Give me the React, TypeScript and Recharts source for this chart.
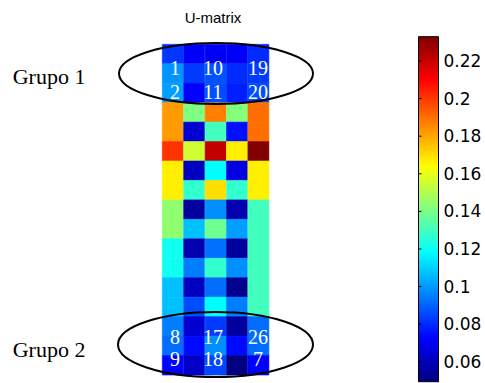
import { Bar, BarChart, Cell, XAxis, YAxis } from 'recharts';

// U-matrix cell values, top row first, 5 columns each
const columns = ['c1', 'c2', 'c3', 'c4', 'c5'];
const uMatrix: number[][] = [
  [0.082, 0.071, 0.07, 0.071, 0.08],
  [0.099, 0.083, 0.087, 0.08, 0.083],
  [0.101, 0.072, 0.086, 0.078, 0.086],
  [0.182, 0.141, 0.187, 0.142, 0.19],
  [0.182, 0.064, 0.13, 0.075, 0.19],
  [0.201, 0.1555, 0.221, 0.167, 0.233],
  [0.167, 0.061, 0.118, 0.067, 0.167],
  [0.167, 0.127, 0.17, 0.127, 0.167],
  [0.144, 0.055, 0.098, 0.058, 0.13],
  [0.144, 0.107, 0.138, 0.101, 0.13],
  [0.121, 0.058, 0.0925, 0.055, 0.13],
  [0.121, 0.095, 0.127, 0.098, 0.13],
  [0.107, 0.061, 0.092, 0.052, 0.13],
  [0.107, 0.086, 0.118, 0.095, 0.13],
  [0.095, 0.064, 0.083, 0.055, 0.092],
  [0.092, 0.074, 0.098, 0.074, 0.092],
  [0.073, 0.062, 0.085, 0.049, 0.072],
];

const colorRange: [number, number] = [0.0494, 0.2329];
const colorTicks = [0.06, 0.08, 0.1, 0.12, 0.14, 0.16, 0.18, 0.2, 0.22];

const groupNames = ['Grupo 1', 'Grupo 2'];
const group1Labels = [
  ['1', '10', '19'],
  ['2', '11', '20'],
];
const group2Labels = [
  ['8', '17', '26'],
  ['9', '18', '7'],
];

const clamp = (v: number) => Math.max(0, Math.min(1, v));

// matlab jet colormap
function jet(v: number) {
  const t = clamp((v - colorRange[0]) / (colorRange[1] - colorRange[0]));
  const r = clamp(Math.min(4 * t - 1.5, -4 * t + 4.5));
  const g = clamp(Math.min(4 * t - 0.5, -4 * t + 3.5));
  const b = clamp(Math.min(4 * t + 0.5, -4 * t + 2.5));
  return `rgb(${Math.round(r * 255)},${Math.round(g * 255)},${Math.round(b * 255)})`;
}

const heatData = columns.map((col) => {
  const row: Record<string, string | number> = { col };
  uMatrix.forEach((_, ri) => {
    row['r' + ri] = 1;
  });
  return row;
});

const colorbarData = [{ name: 'cb', range: colorRange }];

const CB_WIDTH = 20;
const TICK_GAP = 5;

const ColorbarTick = ({ x, y, payload }: any) => (
  <g>
    <line
      x1={x - TICK_GAP - CB_WIDTH}
      x2={x - TICK_GAP - CB_WIDTH + 3}
      y1={y}
      y2={y}
      stroke='#000'
    />
    <text
      x={x}
      y={y}
      dy='0.36em'
      textAnchor='start'
      fontFamily='DejaVu Sans'
      fontSize={17}
      fill='#000'
    >
      {String(+Number(payload.value).toFixed(2))}
    </text>
  </g>
);

const labelX = [175, 213, 258];

export default function App() {
  return (
    <div
      style={{
        position: 'absolute',
        left: 0,
        top: 0,
        width: 485,
        height: 383,
        background: '#fff',
      }}
    >
      <div style={{ position: 'absolute', left: 0, top: 0 }}>
        <BarChart
          width={485}
          height={383}
          data={heatData}
          barCategoryGap={0}
          barGap={0}
          margin={{ top: 44.3, left: 162.3, right: 215.7, bottom: 8 }}
        >
          <XAxis dataKey='col' hide />
          <YAxis type='number' domain={[0, uMatrix.length]} reversed hide />
          {uMatrix.map((vals, ri) => (
            <Bar
              key={ri}
              dataKey={'r' + ri}
              stackId='u'
              isAnimationActive={false}
            >
              {vals.map((v, ci) => (
                <Cell key={ci} fill={jet(v)} stroke={jet(v)} strokeWidth={0.6} />
              ))}
            </Bar>
          ))}
        </BarChart>
      </div>
      <div style={{ position: 'absolute', left: 0, top: 0 }}>
        <BarChart
          width={485}
          height={383}
          data={colorbarData}
          barCategoryGap={0}
          margin={{ top: 36.7, left: 418.5, right: 2.5, bottom: 1.3 }}
        >
          <defs>
            <linearGradient id='jetGrad' x1='0' y1='1' x2='0' y2='0'>
              {Array.from({ length: 17 }, (_, i) => (
                <stop
                  key={i}
                  offset={`${(i / 16) * 100}%`}
                  stopColor={jet(
                    colorRange[0] + (i / 16) * (colorRange[1] - colorRange[0])
                  )}
                />
              ))}
            </linearGradient>
          </defs>
          <XAxis dataKey='name' hide />
          <YAxis
            orientation='right'
            type='number'
            domain={colorRange}
            ticks={colorTicks}
            interval={0}
            width={44}
            axisLine={false}
            tickLine={false}
            tickSize={0}
            tickMargin={TICK_GAP}
            tick={<ColorbarTick />}
          />
          <Bar
            dataKey='range'
            fill='url(#jetGrad)'
            stroke='#000'
            strokeWidth={1}
            isAnimationActive={false}
          />
        </BarChart>
      </div>
      <svg
        width={485}
        height={383}
        style={{ position: 'absolute', left: 0, top: 0, pointerEvents: 'none' }}
      >
        <text
          x={213}
          y={23}
          textAnchor='middle'
          fontFamily='Liberation Sans'
          fontSize={15}
          fill='#000'
        >
          U-matrix
        </text>
        <ellipse cx={216} cy={73.5} rx={97} ry={30.5} fill='none' stroke='#000' strokeWidth={2} />
        <ellipse cx={215.5} cy={344.5} rx={97.5} ry={32.5} fill='none' stroke='#000' strokeWidth={2} />
        <text x={12.7} y={84} fontFamily='Liberation Serif' fontSize={22} fill='#000'>
          {groupNames[0]}
        </text>
        <text x={12.7} y={357} fontFamily='Liberation Serif' fontSize={22} fill='#000'>
          {groupNames[1]}
        </text>
        {group1Labels.map((row, ri) =>
          row.map((lab, ci) => (
            <text
              key={`g1-${ri}-${ci}`}
              x={labelX[ci]}
              y={[75, 98.5][ri]}
              textAnchor='middle'
              fontFamily='Liberation Serif'
              fontSize={20}
              fill='#fff'
            >
              {lab}
            </text>
          ))
        )}
        {group2Labels.map((row, ri) =>
          row.map((lab, ci) => (
            <text
              key={`g2-${ri}-${ci}`}
              x={labelX[ci]}
              y={[343.5, 366][ri]}
              textAnchor='middle'
              fontFamily='Liberation Serif'
              fontSize={20}
              fill='#fff'
            >
              {lab}
            </text>
          ))
        )}
      </svg>
    </div>
  );
}
